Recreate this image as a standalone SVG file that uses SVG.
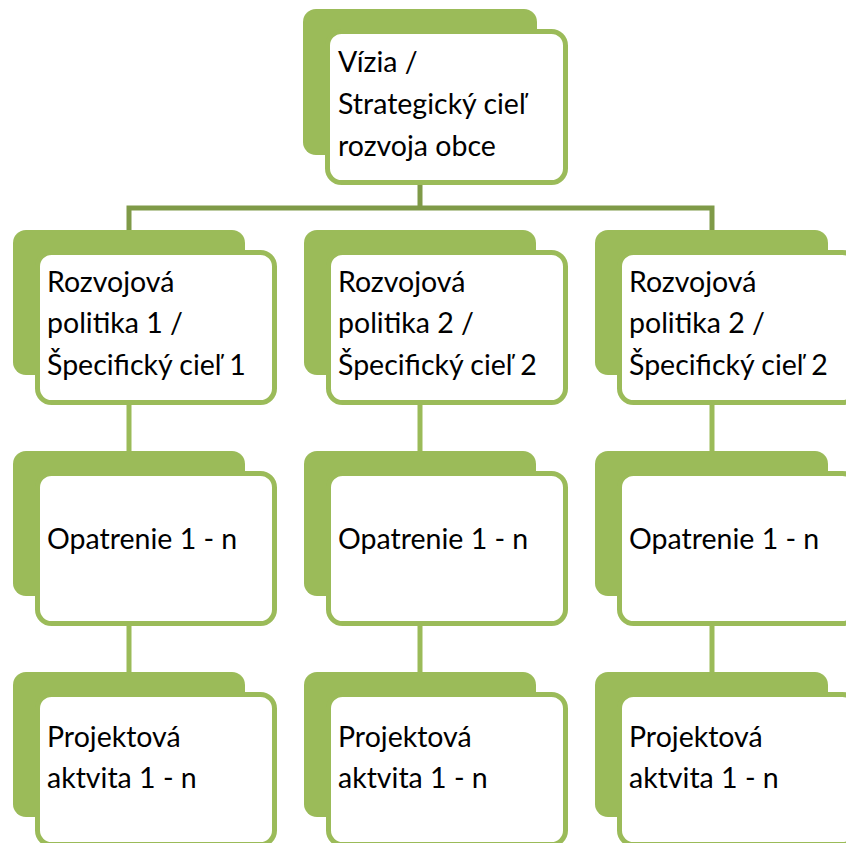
<svg xmlns="http://www.w3.org/2000/svg" width="846" height="843" viewBox="0 0 846 843">
<style>
.back{fill:#9bbb59}
.front{fill:#ffffff;stroke:#9bbb59;stroke-width:5}
.t{font-family:Lato,"Open Sans","Liberation Sans",sans-serif;font-size:28.5px;fill:#000000}
.bus{stroke:#7f9a48;stroke-width:5;fill:none}
.link{stroke:#9bbb59;stroke-width:5;fill:none}
</style>
<rect width="846" height="843" fill="#ffffff"/>
<g id="connectors">
<path class="bus" d="M420 185V208M129 230V208H712V230"/>
<path class="link" d="M129 405V451M420 405V451M712 405V451M129 626V672M420 626V672M712 626V672"/>
</g>
<g id="n-top">
<rect class="back" x="303" y="9" width="234" height="146" rx="13"/>
<rect class="front" x="327.5" y="31.5" width="238" height="151" rx="14"/>
<text class="t" x="338" y="72">Vízia /</text>
<text class="t" x="338" y="114">Strategický cieľ</text>
<text class="t" x="338" y="156">rozvoja obce</text>
</g>
<g id="n-p1">
<rect class="back" x="13" y="230" width="232" height="145" rx="13"/>
<rect class="front" x="37.5" y="252.5" width="237" height="150" rx="14"/>
<text class="t" x="47" y="292">Rozvojová</text>
<text class="t" x="47" y="333">politika 1 /</text>
<text class="t" x="47" y="375">Špecifický cieľ 1</text>
</g>
<g id="n-p2">
<rect class="back" x="304" y="230" width="232" height="145" rx="13"/>
<rect class="front" x="328.5" y="252.5" width="237" height="150" rx="14"/>
<text class="t" x="338" y="292">Rozvojová</text>
<text class="t" x="338" y="333">politika 2 /</text>
<text class="t" x="338" y="375">Špecifický cieľ 2</text>
</g>
<g id="n-p3">
<rect class="back" x="595" y="230" width="233" height="145" rx="13"/>
<rect class="front" x="619.5" y="252.5" width="237" height="150" rx="14"/>
<text class="t" x="629" y="292">Rozvojová</text>
<text class="t" x="629" y="333">politika 2 /</text>
<text class="t" x="629" y="375">Špecifický cieľ 2</text>
</g>
<g id="n-o1">
<rect class="back" x="13" y="451" width="232" height="145" rx="13"/>
<rect class="front" x="37.5" y="473.5" width="237" height="150" rx="14"/>
<text class="t" x="47" y="549">Opatrenie 1 - n</text>
</g>
<g id="n-o2">
<rect class="back" x="304" y="451" width="232" height="145" rx="13"/>
<rect class="front" x="328.5" y="473.5" width="237" height="150" rx="14"/>
<text class="t" x="338" y="549">Opatrenie 1 - n</text>
</g>
<g id="n-o3">
<rect class="back" x="595" y="451" width="233" height="145" rx="13"/>
<rect class="front" x="619.5" y="473.5" width="237" height="150" rx="14"/>
<text class="t" x="629" y="549">Opatrenie 1 - n</text>
</g>
<g id="n-a1">
<rect class="back" x="13" y="672" width="232" height="145" rx="13"/>
<rect class="front" x="37.5" y="694.5" width="237" height="150" rx="14"/>
<text class="t" x="47" y="747">Projektová</text>
<text class="t" x="47" y="788">aktvita 1 - n</text>
</g>
<g id="n-a2">
<rect class="back" x="304" y="672" width="232" height="145" rx="13"/>
<rect class="front" x="328.5" y="694.5" width="237" height="150" rx="14"/>
<text class="t" x="338" y="747">Projektová</text>
<text class="t" x="338" y="788">aktvita 1 - n</text>
</g>
<g id="n-a3">
<rect class="back" x="595" y="672" width="233" height="145" rx="13"/>
<rect class="front" x="619.5" y="694.5" width="237" height="150" rx="14"/>
<text class="t" x="629" y="747">Projektová</text>
<text class="t" x="629" y="788">aktvita 1 - n</text>
</g>
</svg>
